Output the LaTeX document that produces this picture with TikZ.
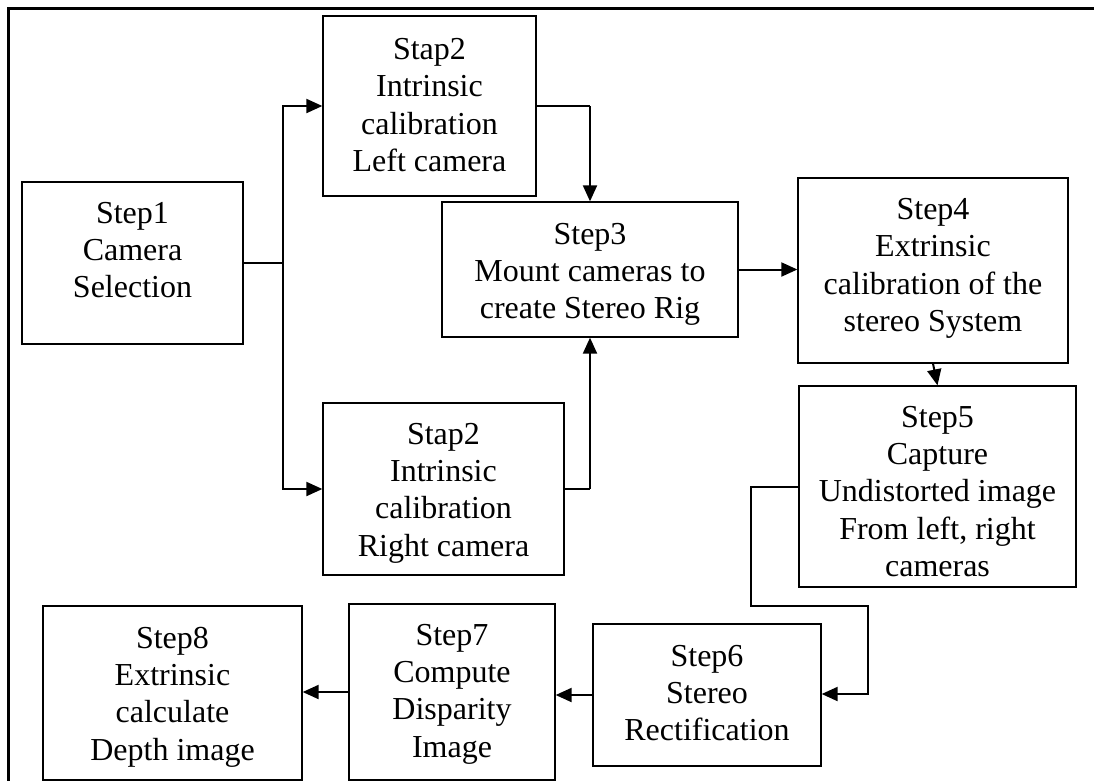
\documentclass[tikz,border=0pt]{standalone}
\usepackage{fontspec}
\setmainfont{Liberation Serif}
\usetikzlibrary{arrows.meta}
\begin{document}
\begin{tikzpicture}[x=1pt,y=-1pt,
  stepbox/.style={draw, line width=1.3pt, rectangle, inner sep=0pt},
  steptext/.style={inner sep=0pt, align=center, font=\fontsize{32}{37.3}\selectfont},
  link/.style={line width=2pt, -{Triangle[length=16pt,width=14pt]}},
  plain/.style={line width=2pt}]
\useasboundingbox (0,0) rectangle (1094,780);
% outer frame (top and left edges)
\draw[line width=3pt] (8,781) -- (8,8) -- (1095,8);

% process step boxes
\node[stepbox, minimum width=221pt, minimum height=162pt] (s1) at (132.5,263) {};
\node[stepbox, minimum width=213pt, minimum height=180pt] (s2a) at (429.5,106) {};
\node[stepbox, minimum width=241pt, minimum height=172pt] (s2b) at (443.5,489) {};
\node[stepbox, minimum width=296pt, minimum height=135pt] (s3) at (590,269.5) {};
\node[stepbox, minimum width=270pt, minimum height=185pt] (s4) at (933,270.5) {};
\node[stepbox, minimum width=277pt, minimum height=201pt] (s5) at (937.5,486.5) {};
\node[stepbox, minimum width=228pt, minimum height=142pt] (s6) at (707,695) {};
\node[stepbox, minimum width=206pt, minimum height=176pt] (s7) at (452,692) {};
\node[stepbox, minimum width=259pt, minimum height=174pt] (s8) at (172.5,693) {};

% step captions
\node[steptext] (t1) at ([yshift=13pt]s1.center) {Step1\\Camera\\Selection};
\node[steptext] (t2a) at ([yshift=1pt]s2a.center) {Stap2\\Intrinsic\\calibration\\Left camera};
\node[steptext] (t2b) at ([yshift=-4pt]s2b.center) {Stap2\\Intrinsic\\calibration\\Right camera};
\node[steptext] (t3) at ([yshift=-5pt]s3.center) {Step3\\Mount cameras to\\create Stereo Rig};
\node[steptext] (t4) at ([yshift=2pt]s4.center) {Step4\\Extrinsic\\calibration of the\\stereo System};
\node[steptext] (t5) at ([yshift=-5pt]s5.center) {Step5\\Capture\\Undistorted image\\From left, right\\cameras};
\node[steptext] (t6) at ([yshift=2pt]s6.center) {Step6\\Stereo\\Rectification};
\node[steptext] (t7) at ([yshift=-2pt]s7.center) {Step7\\Compute\\Disparity\\Image};
\node[steptext] (t8) at ([yshift=-4pt]s8.center) {Step8\\Extrinsic\\calculate\\Depth image};

% routing points
\coordinate (split) at (283,263);
\coordinate (lj) at (590,106);
\coordinate (rj) at (590,489);
\coordinate (c1) at (751,487);
\coordinate (c2) at (751,606);
\coordinate (c3) at (868,606);
\coordinate (c4) at (868,694);

% connectors
\draw[plain] (s1.east |- split) -- (split);
\draw[link] (split) |- (s2a.west);
\draw[link] (split) |- (s2b.west);
\draw[plain] (s2a.east |- lj) -- (lj);
\draw[link] (lj) -- (s3.north);
\draw[plain] (s2b.east |- rj) -- (rj);
\draw[link] (rj) -- (s3.south);
\draw[link] (s3.east) -- (s4.west |- s3.east);
\draw[link] (s4.south) -- (s5.north);
\draw[link] (s5.west |- c1) -- (c1) -- (c2) -- (c3) -- (c4) -- (s6.east |- c4);
\draw[link] (s6.west) -- (s7.east |- s6.west);
\draw[link] (s7.west) -- (s8.east |- s7.west);
\end{tikzpicture}
\end{document}
